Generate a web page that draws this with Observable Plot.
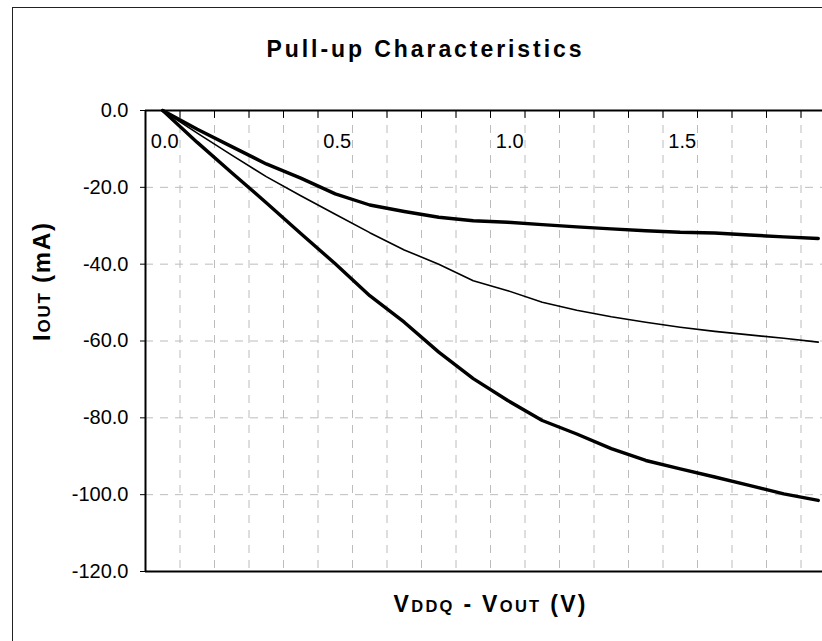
<!DOCTYPE html>
<html>
<head>
<meta charset="utf-8">
<script src="https://cdn.jsdelivr.net/npm/d3@7"></script>
<script src="https://cdn.jsdelivr.net/npm/@observablehq/plot@0.6"></script>
<style>
  html, body { margin: 0; padding: 0; background: #fff; }
  #wrap { position: relative; width: 822px; height: 641px; overflow: hidden; }
  #border { position: absolute; left: 12px; top: 7px; width: 900px; height: 700px;
            border-left: 1.3px solid #222; border-top: 1.3px solid #222; pointer-events: none; }
</style>
</head>
<body>
<div id="wrap"><div id="border"></div></div>
<script>
// ---- data ----
const vddqMinusVout = [0.0, 0.1, 0.2, 0.3, 0.4, 0.5, 0.6, 0.7, 0.8, 0.9, 1.0, 1.1, 1.2, 1.3, 1.4, 1.5, 1.6, 1.7, 1.8, 1.9];
const ioutWeak    = [0, -4.9, -9.4, -13.9, -17.6, -21.7, -24.6, -26.3, -27.8, -28.7, -29.1, -29.7, -30.3, -30.8, -31.3, -31.7, -31.9, -32.4, -32.9, -33.3];
const ioutTypical = [0, -5.9, -11.6, -17.2, -22.2, -27.0, -31.8, -36.3, -40.0, -44.3, -46.9, -49.9, -52.0, -53.7, -55.1, -56.4, -57.5, -58.4, -59.3, -60.3];
const ioutStrong  = [0, -8.3, -16.2, -24.0, -32.0, -39.9, -48.2, -55.1, -62.9, -69.8, -75.5, -80.7, -84.2, -88.0, -91.1, -93.3, -95.4, -97.6, -99.8, -101.5];
const xTickValues = [0.0, 0.5, 1.0, 1.5];
const yTickValues = [0, -20, -40, -60, -80, -100, -120];
const titleText = "Pull-up Characteristics";
const xLabelParts = [["V", false], ["DDQ", true], [" - V", false], ["OUT", true], [" (V)", false]];
const yLabelParts = [["I", false], ["OUT", true], [" (mA)", false]];

// ---- layout ----
const xMin = -0.05, xMax = 1.9123;
const rows = s => vddqMinusVout.map((v, k) => ({v, i: s[k]}));
const joined = parts => parts.map(p => p[0]).join("");
// category boundaries (Excel "between categories" tick marks)
const gridX = vddqMinusVout.map(v => +(v + 0.05).toFixed(2)).filter(v => v < xMax);
const gridY = yTickValues.filter(d => d < 0 && d > -120);
const gridStyle = {stroke: "#bcbcbc", strokeWidth: 1, strokeDasharray: "8,7"};
const tickDown = {draw(ctx, l) { ctx.moveTo(0, 0); ctx.lineTo(0, l); }};

const chart = Plot.plot({
  width: 822, height: 641,
  marginTop: 110, marginLeft: 145, marginRight: 0, marginBottom: 70,
  style: {fontFamily: "'Liberation Sans', Arial, sans-serif", background: "transparent", color: "black", overflow: "visible"},
  x: {domain: [xMin, xMax], axis: null},
  y: {domain: [-120, 0], axis: null},
  marks: [
    Plot.ruleX(gridX, gridStyle),
    Plot.ruleY(gridY, gridStyle),
    Plot.line(rows(ioutTypical), {x: "v", y: "i", stroke: "black", strokeWidth: 1.6, strokeLinejoin: "round", strokeLinecap: "round"}),
    Plot.line(rows(ioutWeak), {x: "v", y: "i", stroke: "black", strokeWidth: 3.4, strokeLinejoin: "round", strokeLinecap: "round"}),
    Plot.line(rows(ioutStrong), {x: "v", y: "i", stroke: "black", strokeWidth: 3.4, strokeLinejoin: "round", strokeLinecap: "round"}),
    // plot-area border lines
    Plot.ruleY([0], {stroke: "black", strokeWidth: 2}),
    Plot.ruleY([-120], {stroke: "black", strokeWidth: 2}),
    Plot.ruleX([xMin], {stroke: "black", strokeWidth: 2}),
    // top axis tick marks (pointing down, inside)
    Plot.vector(gridX, {x: d => d, y: 0, length: 7, anchor: "start", shape: tickDown, stroke: "black", strokeWidth: 1}),
    // y axis
    Plot.axisY(yTickValues, {anchor: "left", tickSize: 5, tickPadding: 12, tickFormat: d => d.toFixed(1), fontSize: 20, label: null}),
    // x tick labels (below the top axis)
    Plot.text(xTickValues, {x: d => d, y: 0, dy: 31, dx: 2, text: d => d.toFixed(1), fontSize: 20}),
    // title and axis labels
    Plot.text([titleText], {frameAnchor: "top", dy: -70, dx: -60, fontSize: 23, fontWeight: "bold"}),
    Plot.text([joined(xLabelParts)], {frameAnchor: "bottom", dy: 40, dx: 5.5, fontSize: 23, fontWeight: "bold"}),
    Plot.text([joined(yLabelParts)], {frameAnchor: "left", dx: -103, rotate: -90, fontSize: 24, fontWeight: "bold"})
  ]
});

document.getElementById("wrap").insertBefore(chart, document.getElementById("border"));
chart.style.position = "absolute";
chart.style.left = "0px";
chart.style.top = "0px";

const svg = d3.select(chart);
function rich(content, parts, bigSize, smallSize, len) {
  const t = svg.selectAll("text").filter(function() { return this.textContent === content; });
  if (t.empty()) return;
  if (parts) {
    t.text(null);
    for (const [s, small] of parts) t.append("tspan").attr("font-size", small ? smallSize : bigSize).text(s);
  }
  if (len) t.attr("textLength", len).attr("lengthAdjust", "spacing");
}
rich(titleText, null, 23, 23, 315);
rich(joined(xLabelParts), xLabelParts, 23, 16.5, 192);
rich(joined(yLabelParts), yLabelParts, 24, 17, 118);
</script>
</body>
</html>
